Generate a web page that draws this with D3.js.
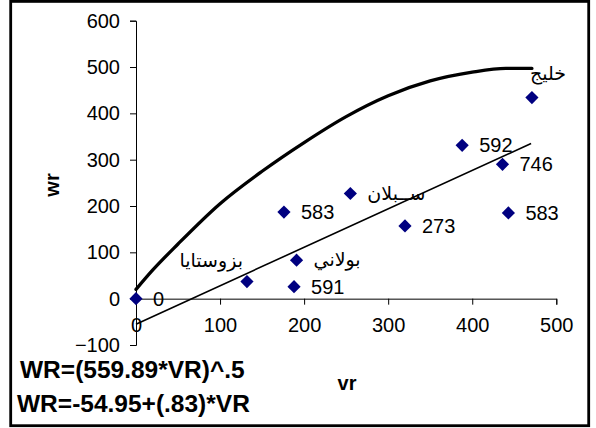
<!DOCTYPE html>
<html>
<head>
<meta charset="utf-8">
<script src="https://cdn.jsdelivr.net/npm/d3@7"></script>
<style>
  html, body { margin: 0; padding: 0; background: #fff; }
  svg { display: block; font-family: "Liberation Sans", Arial, sans-serif; }
</style>
</head>
<body>
<div id="chart"></div>
<script>
  /* scatter points (vr, wr) and their labels */
  var pointVr = [0, 132, 176, 191, 188, 255, 320, 388, 436, 443, 471];
  var pointWr = [0, 37, 187, 83, 26, 227, 157, 331, 290, 185, 434];
  var pointLabels = ["0", "بزوستايا", "583", "بولاني", "591", "ســبلان", "273", "592", "746", "583", "خليج"];

  /* thick curve WR=(559.89*VR)^.5 as drawn in the picture */
  var curveVr = [0, 20, 50, 100, 150, 200, 250, 300, 350, 400, 440, 471];
  var curveWr = [20, 62, 118, 205, 275, 337, 393, 438, 470, 489, 497, 497];

  /* straight line WR=-54.95+(.83)*VR */
  var trendVr = [0, 470];
  var trendWr = [-55, 335];

  var xTicks = [0, 100, 200, 300, 400, 500];
  var yTicks = [-100, 0, 100, 200, 300, 400, 500, 600];
  var equations = ["WR=(559.89*VR)^.5", "WR=-54.95+(.83)*VR"];

  var W = 596, H = 428;
  var svg = d3.select("#chart").append("svg")
    .attr("width", W).attr("height", H);

  svg.append("rect")
    .attr("x", 10.7).attr("y", 1.4)
    .attr("width", 578).attr("height", 424.3)
    .attr("fill", "#fff").attr("stroke", "#000").attr("stroke-width", 2.8);

  var x = d3.scaleLinear().domain([0, 500]).range([136, 556.3]);
  var y = d3.scaleLinear().domain([-100, 600]).range([345, 20.7]);

  /* y axis */
  var gy = svg.append("g")
    .attr("transform", "translate(" + x(0) + ",0)")
    .call(d3.axisLeft(y).tickValues(yTicks).tickSize(6).tickPadding(10).tickFormat(d3.format("d")));

  /* x axis sits on wr = 0 */
  var gx = svg.append("g")
    .attr("transform", "translate(0," + y(0) + ")")
    .call(d3.axisBottom(x).tickValues(xTicks).tickSize(6).tickPadding(20).tickFormat(d3.format("d")));

  [gx, gy].forEach(function (g) {
    g.select(".domain").attr("stroke", "#000").attr("stroke-width", 1);
    g.selectAll(".tick line").attr("stroke", "#000");
    g.selectAll(".tick text")
      .attr("fill", "#000")
      .style("font-family", "'Liberation Sans', Arial, sans-serif")
      .style("font-size", "20px");
  });
  gx.selectAll(".tick text").attr("dy", "0.35em");

  /* lines */
  var line = d3.line()
    .x(function (d) { return x(d[0]); })
    .y(function (d) { return y(d[1]); });

  svg.append("path")
    .datum(trendVr.map(function (v, i) { return [v, trendWr[i]]; }))
    .attr("d", line)
    .attr("fill", "none").attr("stroke", "#000").attr("stroke-width", 1.6);

  svg.append("path")
    .datum(curveVr.map(function (v, i) { return [v, curveWr[i]]; }))
    .attr("d", line.curve(d3.curveMonotoneX))
    .attr("fill", "none").attr("stroke", "#000").attr("stroke-width", 3.3)
    .attr("stroke-linejoin", "round").attr("stroke-linecap", "round");

  /* label placement around each diamond */
  var labelPlace = ["right", "leftAbove", "right", "right", "right", "right", "right", "right", "right", "right", "above"];

  var pts = pointVr.map(function (v, i) {
    return { vr: v, wr: pointWr[i], label: pointLabels[i], place: labelPlace[i] };
  });

  svg.selectAll("path.pt").data(pts).enter().append("path")
    .attr("class", "pt")
    .attr("d", "M0,-6.6L6.6,0L0,6.6L-6.6,0Z")
    .attr("transform", function (d) { return "translate(" + x(d.vr) + "," + y(d.wr) + ")"; })
    .attr("fill", "#000080");

  var isArabic = function (s) { return /[\u0600-\u06FF]/.test(s); };

  svg.selectAll("text.lbl").data(pts).enter().append("text")
    .attr("class", "lbl")
    .attr("x", function (d) {
      var px = x(d.vr);
      if (d.place === "leftAbove") return px - 4;
      if (d.place === "above") return px - 2;
      return px + 17;
    })
    .attr("y", function (d) {
      var py = y(d.wr);
      if (d.place === "leftAbove") return py - 15;
      if (d.place === "above") return py - 18;
      return py + (isArabic(d.label) ? 6 : 7);
    })
    .attr("text-anchor", function (d) { return d.place === "leftAbove" ? "end" : "start"; })
    .style("font-family", function (d) {
      return isArabic(d.label) ? "'DejaVu Sans', sans-serif" : "'Liberation Sans', Arial, sans-serif";
    })
    .style("font-size", function (d) { return isArabic(d.label) ? "19px" : "20px"; })
    .attr("fill", "#000")
    .text(function (d) { return d.label; });

  /* axis titles */
  svg.append("text")
    .attr("transform", "translate(59,185) rotate(-90)")
    .attr("text-anchor", "middle")
    .style("font-size", "20px").style("font-weight", "bold")
    .text("wr");

  svg.append("text")
    .attr("x", 347).attr("y", 390)
    .attr("text-anchor", "middle")
    .style("font-size", "20px").style("font-weight", "bold")
    .text("vr");

  /* equations */
  svg.selectAll("text.eq").data(equations).enter().append("text")
    .attr("class", "eq")
    .attr("x", function (d, i) { return i === 0 ? 20 : 17; })
    .attr("y", function (d, i) { return i === 0 ? 378 : 411.5; })
    .style("font-size", "24.5px").style("font-weight", "bold")
    .text(function (d) { return d; });
</script>
</body>
</html>
